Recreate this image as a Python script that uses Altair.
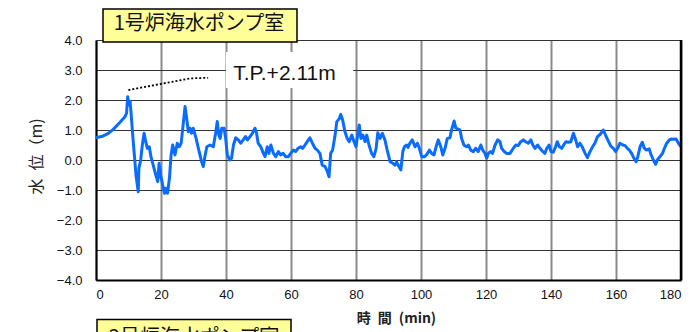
import altair as alt
import pandas as pd

# ---- data ----
time_min = [0, 1.75, 3.8, 5.3, 7.4, 8.9, 9.4, 9.75, 10.15, 10.5, 10.8, 11.3, 11.8, 12.3, 13.0, 13.2,
            13.75, 14.25, 14.8, 15.3, 15.8, 16.4, 16.9, 17.6, 18.4, 19.0, 19.4, 19.9, 20.5, 21.1, 21.5,
            22.0, 22.6, 23.1, 23.6, 24.3, 25.0, 25.6, 26.2, 26.7, 27.4, 27.9, 28.4, 28.9, 29.4, 29.9,
            30.8, 31.5, 32.5, 33.0, 33.5, 34.1, 35.1, 36.1, 36.8, 37.3, 37.8, 38.2, 38.7, 39.4, 39.9,
            40.4, 41.2, 41.7, 42.3, 43.0, 43.8, 44.5, 45.3, 46.0, 46.6, 47.4, 48.1, 48.9, 49.4, 49.9,
            50.7, 51.5, 52.0, 52.7, 53.2, 53.8, 54.6, 55.3, 56.1, 56.8, 57.6, 58.4, 59.2, 59.9, 60.7,
            61.4, 62.2, 63.0, 63.6, 64.3, 65.0, 65.8, 66.6, 67.4, 68.1, 68.9, 69.6, 70.5, 71.2, 71.7,
            72.2, 72.8, 73.5, 74.1, 74.8, 75.3, 75.9, 76.6, 77.3, 77.9, 78.7, 79.4, 80.0, 80.5, 81.0,
            81.5, 82.1, 82.8, 83.3, 84.0, 84.8, 85.5, 86.2, 86.7, 87.4, 88.1, 88.9, 89.6, 90.5, 91.3,
            92.0, 92.5, 93.2, 93.8, 94.4, 94.9, 95.6, 96.0, 96.6, 97.3, 98.2, 98.9, 99.5, 100.2, 101.0,
            101.7, 102.6, 103.3, 104.0, 104.8, 105.3, 106.1, 106.7, 107.4, 108.1, 108.9, 109.4, 110.2,
            110.7, 111.5, 112.0, 112.5, 113.2, 114.0, 114.6, 115.3, 116.1, 116.8, 117.6, 118.4, 119.0,
            119.7, 120.2, 120.7, 121.4, 122.0, 122.8, 123.6, 124.3, 124.8, 125.6, 126.4, 127.4, 128.4,
            129.2, 129.9, 130.7, 131.5, 132.2, 133.0, 133.8, 134.4, 135.1, 135.9, 136.6, 137.3, 138.1,
            138.7, 139.4, 140.0, 140.7, 141.4, 141.9, 142.6, 143.3, 144.0, 144.6, 145.3, 146.1, 146.9,
            147.6, 148.2, 148.9, 149.6, 150.5, 151.2, 152.0, 152.8, 153.5, 154.3, 155.1, 156.1, 156.9,
            157.6, 158.4, 159.2, 159.9, 160.5, 161.2, 162.1, 162.8, 163.5, 164.1, 164.8, 165.5, 166.2,
            166.7, 167.4, 168.1, 168.7, 169.4, 170.2, 170.8, 171.5, 172.2, 172.7, 173.5, 174.3, 174.9,
            175.6, 176.4, 177.1, 177.8, 178.5, 179.2, 180.0]
water_level = [0.75, 0.78, 0.89, 1.02, 1.26, 1.44, 1.56, 2.11, 1.83, 1.95, 1.55, 0.83, 0.17, -0.5, -1.06, -0.27,
               0.0, 0.5, 0.89, 0.61, 0.39, 0.44, 0.11, -0.17, -0.5, -0.72, -0.11, -0.5, -0.83, -1.11, -0.94,
               -1.11, -0.61, 0.17, 0.5, 0.17, 0.56, 0.44, 0.56, 1.06, 1.78, 1.39, 0.94, 1.06, 0.89, 1.06,
               0.72, 0.39, -0.06, -0.22, 0.11, 0.44, 0.5, 0.44, 0.89, 1.28, 0.83, 0.72, 1.06, 1.06, 0.72,
               0.17, 0.0, 0.06, 0.5, 0.74, 0.67, 0.56, 0.67, 0.78, 0.67, 0.78, 0.89, 1.06, 0.89, 0.56,
               0.44, 0.22, 0.11, 0.44, 0.22, 0.5, 0.22, 0.11, 0.28, 0.17, 0.22, 0.11, 0.11, 0.22, 0.33,
               0.28, 0.39, 0.44, 0.39, 0.5, 0.61, 0.74, 0.56, 0.39, 0.33, 0.22, -0.17, -0.22, -0.39, -0.56,
               0.22, 0.33, 0.78, 1.28, 1.37, 1.52, 1.33, 0.94, 0.72, 0.61, 0.83, 0.61, 0.44, 0.83, 1.17,
               0.72, 0.83, 0.61, 0.83, 0.5, 0.22, 0.11, 0.39, 0.91, 0.72, 0.89, 0.67, 0.33, -0.06, -0.11,
               -0.17, -0.06, -0.22, -0.33, 0.28, 0.44, 0.5, 0.42, 0.56, 0.67, 0.44, 0.56, 0.39, 0.11, 0.11,
               0.17, 0.33, 0.22, 0.17, 0.5, 0.67, 0.44, 0.17, 0.39, 0.72, 0.74, 1.0, 1.3,
               1.06, 1.03, 1.0, 0.72, 0.5, 0.44, 0.5, 0.33, 0.28, 0.39, 0.28, 0.5, 0.33,
               0.22, 0.06, 0.22, 0.28, 0.22, 0.5, 0.67, 0.61, 0.39, 0.28, 0.22, 0.22, 0.39,
               0.5, 0.48, 0.61, 0.67, 0.61, 0.56, 0.67, 0.5, 0.39, 0.5, 0.39, 0.3, 0.22,
               0.39, 0.5, 0.28, 0.26, 0.44, 0.61, 0.44, 0.39, 0.52, 0.61, 0.59, 0.61, 0.89,
               0.67, 0.44, 0.56, 0.44, 0.22, 0.08, 0.28, 0.44, 0.56, 0.78, 0.85, 1.0, 0.8,
               0.64, 0.46, 0.39, 0.28, 0.39, 0.56, 0.5, 0.48, 0.39, 0.33, 0.22, 0.06, -0.06,
               0.11, 0.44, 0.59, 0.39, 0.33, 0.37, 0.17, 0.0, -0.14, 0.0, 0.11, 0.22, 0.39,
               0.56, 0.67, 0.7, 0.69, 0.7, 0.56, 0.45]

# dotted leader from the peak to the note
leader_t = [9.95, 28.9, 34.5]
leader_y = [2.33, 2.72, 2.74]

x_ticks = [0, 20, 40, 60, 80, 100, 120, 140, 160, 180]
y_ticks = [-4, -3, -2, -1, 0, 1, 2, 3, 4]

chart_title = "1号炉海水ポンプ室"
next_chart_title = "2号炉海水ポンプ室"
note_text = "T.P.+2.11m"
x_title = "時\u2002間\u2002(min)"
y_title = "水\u2002位（m)"

LAT = "Liberation Sans"
JP = "Noto Sans CJK JP"

df = pd.DataFrame({"t": time_min, "h": water_level})
leader = pd.DataFrame({"t": leader_t, "h": leader_y})
one = pd.DataFrame({"k": [0]})

xs = alt.Scale(domain=[0, 180], nice=False, zero=False)
ys = alt.Scale(domain=[-4, 4], nice=False, zero=False)

x_axis = alt.Axis(
    values=x_ticks, tickCount=len(x_ticks), format="d", grid=True, gridColor="#8a8a8a", gridWidth=2,
    ticks=False, domainColor="black", domainWidth=2, labelOverlap=False,
    labelFont=LAT, labelFontSize=13, labelColor="#111", labelPadding=8,
    title=x_title, titleFont=JP, titleFontSize=14, titleFontWeight="bold", titleColor="#222",
    titleX=300, titleY=38, titleBaseline="middle", titleAlign="center")
y_axis = alt.Axis(
    values=y_ticks, tickCount=len(y_ticks), format=".1f", grid=True, gridColor="#333", gridWidth=1,
    ticks=False, domainColor="black", domainWidth=2, labelOverlap=False,
    labelExpr="replace(datum.label, '-', '\u2212')",
    labelFont=LAT, labelFontSize=13, labelColor="#111", labelPadding=14,
    title=y_title, titleFont=JP, titleFontSize=16, titleFontWeight="normal", titleColor="#222",
    titleX=-60, titleY=116, titleAngle=-90, titleBaseline="middle", titleAlign="center")

main = alt.Chart(df).mark_line(color="#0a6cff", strokeWidth=3, strokeJoin="round").encode(
    x=alt.X("t:Q", scale=xs, axis=x_axis),
    y=alt.Y("h:Q", scale=ys, axis=y_axis),
)

note_bg = alt.Chart(one).mark_rect(color="white").encode(
    x=alt.X(datum=40.0, type="quantitative", scale=xs, axis=x_axis),
    x2=alt.X2(datum=79.1),
    y=alt.Y(datum=2.4, type="quantitative", scale=ys, axis=y_axis),
    y2=alt.Y2(datum=3.6),
)

note = alt.Chart(one).mark_text(font=LAT, fontSize=21, align="left", baseline="alphabetic",
                                color="#111").encode(
    x=alt.X(datum=42.2, type="quantitative", scale=xs, axis=x_axis),
    y=alt.Y(datum=2.67, type="quantitative", scale=ys, axis=y_axis),
    text=alt.value(note_text),
)

leader_line = alt.Chart(leader).mark_line(color="black", strokeWidth=1.8, strokeDash=[2, 2]).encode(
    x=alt.X("t:Q", scale=xs, axis=x_axis),
    y=alt.Y("h:Q", scale=ys, axis=y_axis),
)

right_border = alt.Chart(one).mark_rule(color="black", strokeWidth=2.5).encode(
    x=alt.X(datum=180, type="quantitative", scale=xs, axis=x_axis),
)

title_box = alt.Chart(one).mark_rect(fill="#ffff99", stroke="black", strokeWidth=1.5).encode(
    x=alt.value(7), x2=alt.value(201), y=alt.value(-31), y2=alt.value(2),
)
title_txt = alt.Chart(one).mark_text(font=JP, fontSize=20, color="#111", align="center",
                                     baseline="middle").encode(
    x=alt.value(103), y=alt.value(-16), text=alt.value(chart_title),
)

next_box = alt.Chart(one).mark_rect(fill="#ffff99", stroke="black", strokeWidth=1.5).encode(
    x=alt.value(1), x2=alt.value(195), y=alt.value(279.5), y2=alt.value(320),
)
next_txt = alt.Chart(one).mark_text(font=JP, fontSize=20, color="#111", align="center",
                                    baseline="middle").encode(
    x=alt.value(98), y=alt.value(298), text=alt.value(next_chart_title),
)

chart = alt.layer(
    main, note_bg, leader_line, note, right_border, title_box, title_txt, next_box, next_txt
).properties(
    width=585, height=240,
    autosize=alt.AutoSizeParams(type="none"),
    padding={"left": 88, "top": 32, "right": 8, "bottom": 52},
).configure_view(stroke="#555", strokeWidth=1).configure(background="white")

chart.save("out.html", embed_options={"renderer": "svg", "actions": False})
